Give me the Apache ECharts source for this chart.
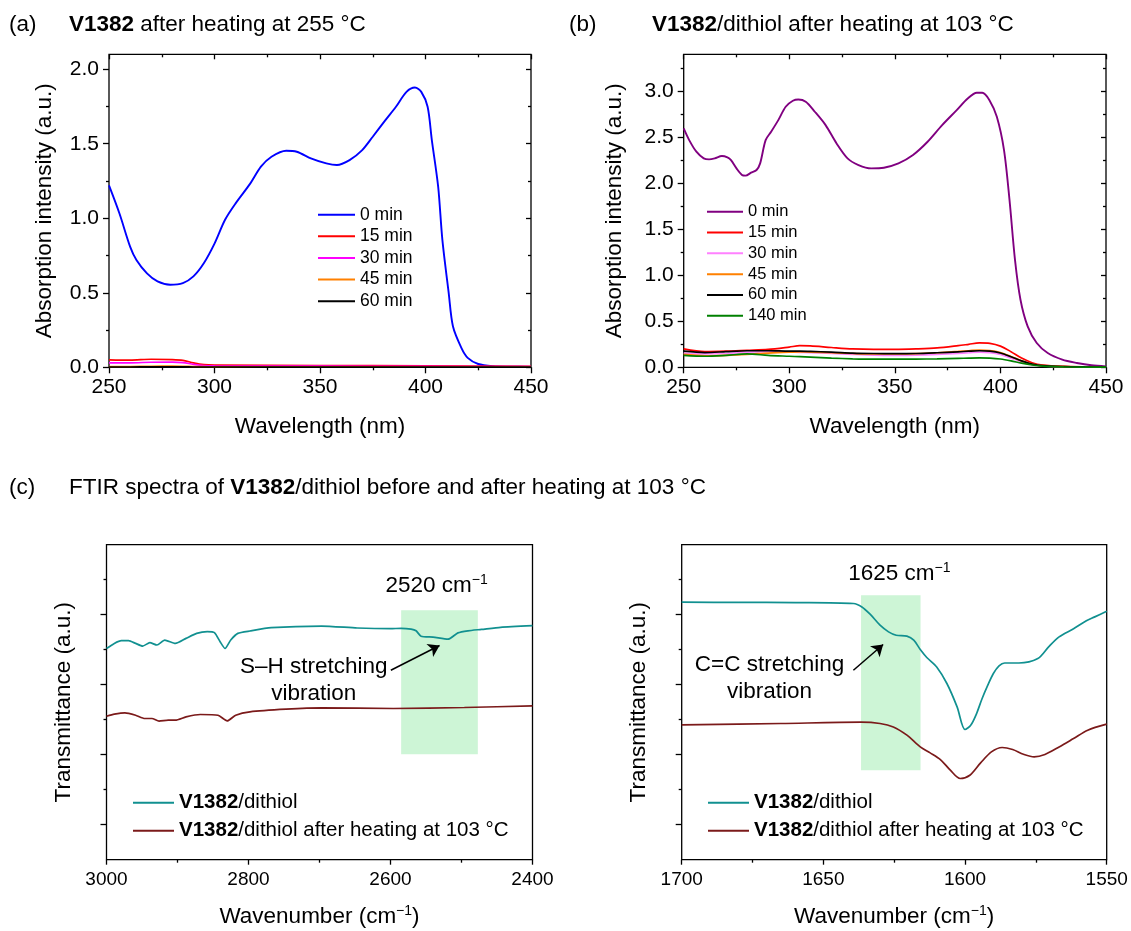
<!DOCTYPE html>
<html>
<head>
<meta charset="utf-8">
<title>V1382 UV-Vis and FTIR spectra</title>
<script src="https://cdn.jsdelivr.net/npm/echarts@6/dist/echarts.min.js"></script>
<style>
  html, body { margin: 0; padding: 0; background: #fff; }
  #chart { width: 1131px; height: 931px; }
</style>
</head>
<body>
<div id="chart"></div>
<script>
// ---------- (a) V1382 after heating at 255 °C ----------
const wlA0 = [250, 255, 260, 263, 268, 273, 279, 285, 290, 295, 300, 305, 310, 317, 322, 327, 334, 339, 346, 353, 358, 364, 370, 375, 381, 386, 391, 395, 398, 401, 403, 406, 408, 411, 413, 417, 420, 425, 432, 440, 450];
const absA0 = [1.22, 1.03, 0.81, 0.72, 0.63, 0.576, 0.554, 0.565, 0.61, 0.70, 0.83, 0.99, 1.10, 1.234, 1.346, 1.413, 1.453, 1.446, 1.40, 1.368, 1.357, 1.39, 1.457, 1.547, 1.658, 1.748, 1.848, 1.877, 1.848, 1.748, 1.525, 1.212, 0.855, 0.498, 0.275, 0.13, 0.063, 0.022, 0.007, 0.004, 0.003];
const wlAlow = [250, 260, 270, 280, 285, 290, 295, 300, 350, 400, 450];
const absA15 = [0.050, 0.048, 0.054, 0.052, 0.047, 0.030, 0.018, 0.015, 0.012, 0.010, 0.006];
const absA30 = [0.030, 0.030, 0.034, 0.035, 0.032, 0.020, 0.012, 0.010, 0.008, 0.006, 0.004];
const absA45 = [0.004, 0.005, 0.007, 0.008, 0.007, 0.005, 0.004, 0.003, 0.003, 0.002, 0.002];
const absA60 = [0.002, 0.002, 0.003, 0.003, 0.003, 0.002, 0.002, 0.002, 0.001, 0.001, 0.001];

// ---------- (b) V1382/dithiol after heating at 103 °C ----------
const wlB0 = [250, 252.6, 256, 259.5, 262, 264.7, 268.1, 270.7, 272.4, 275, 277.6, 279.3, 281.9, 284.5, 286.2, 288.8, 291.4, 294.8, 298.3, 301.7, 304.3, 307.8, 312.1, 317.2, 322.4, 327.6, 332.8, 338.8, 344.8, 351.7, 358.6, 365.5, 372.4, 379.3, 384.5, 388.8, 391.4, 394.8, 398.3, 401.7, 404.3, 406.9, 409.5, 412.9, 417.2, 422.4, 429.3, 436.2, 443.1, 450];
const absB0 = [2.595, 2.468, 2.342, 2.27, 2.259, 2.27, 2.295, 2.28, 2.25, 2.161, 2.089, 2.082, 2.114, 2.143, 2.215, 2.468, 2.559, 2.685, 2.83, 2.895, 2.909, 2.884, 2.776, 2.631, 2.432, 2.27, 2.197, 2.161, 2.168, 2.215, 2.306, 2.45, 2.631, 2.794, 2.92, 2.982, 2.982, 2.902, 2.721, 2.36, 1.818, 1.167, 0.734, 0.445, 0.264, 0.155, 0.083, 0.047, 0.022, 0.01];
const wlBlow = [250, 260, 270, 280, 290, 300, 305, 310, 320, 330, 340, 350, 360, 370, 380, 385, 390, 395, 400, 405, 410, 415, 420, 430, 440, 450];
const absB15 = [0.20, 0.17, 0.175, 0.185, 0.195, 0.22, 0.235, 0.232, 0.215, 0.20, 0.195, 0.195, 0.20, 0.21, 0.235, 0.25, 0.265, 0.26, 0.23, 0.17, 0.10, 0.05, 0.025, 0.01, 0.005, 0.003];
const absB30 = [0.155, 0.145, 0.15, 0.165, 0.17, 0.165, 0.162, 0.16, 0.15, 0.14, 0.132, 0.13, 0.132, 0.14, 0.152, 0.158, 0.165, 0.16, 0.14, 0.10, 0.06, 0.03, 0.015, 0.006, 0.003, 0.001];
const absB45 = [0.14, 0.125, 0.13, 0.14, 0.155, 0.165, 0.168, 0.165, 0.158, 0.15, 0.145, 0.145, 0.148, 0.158, 0.172, 0.18, 0.188, 0.182, 0.16, 0.118, 0.07, 0.035, 0.018, 0.008, 0.004, 0.002];
const absB60 = [0.175, 0.16, 0.17, 0.18, 0.18, 0.175, 0.175, 0.172, 0.165, 0.155, 0.15, 0.148, 0.15, 0.158, 0.168, 0.175, 0.18, 0.175, 0.155, 0.115, 0.07, 0.035, 0.018, 0.008, 0.004, 0.002];
const absB140 = [0.13, 0.12, 0.13, 0.145, 0.13, 0.12, 0.115, 0.11, 0.10, 0.092, 0.088, 0.088, 0.089, 0.092, 0.097, 0.10, 0.102, 0.10, 0.09, 0.07, 0.045, 0.025, 0.012, 0.005, 0.002, 0.001];

// ---------- (c) FTIR, S–H region ----------
const wnShDithiol = [3000, 2989, 2979, 2969, 2959, 2949, 2939, 2929, 2918, 2903, 2888, 2873, 2858, 2848, 2840, 2833, 2825, 2815, 2798, 2768, 2697, 2647, 2600, 2585, 2571, 2564, 2557, 2540, 2519, 2505, 2491, 2472, 2445, 2400];
const trShDithiol = [2.517, 2.59, 2.629, 2.629, 2.59, 2.552, 2.6, 2.567, 2.638, 2.59, 2.662, 2.733, 2.757, 2.743, 2.614, 2.517, 2.638, 2.733, 2.767, 2.814, 2.838, 2.81, 2.80, 2.805, 2.793, 2.77, 2.693, 2.68, 2.65, 2.74, 2.77, 2.79, 2.82, 2.843];
const wnShHeated = [3000, 2989, 2974, 2959, 2946, 2936, 2926, 2913, 2903, 2888, 2868, 2843, 2830, 2818, 2798, 2747, 2697, 2596, 2496, 2400];
const trShHeated = [1.55, 1.579, 1.598, 1.564, 1.517, 1.517, 1.479, 1.493, 1.493, 1.54, 1.574, 1.564, 1.483, 1.564, 1.612, 1.65, 1.669, 1.66, 1.674, 1.698];

// ---------- (c) FTIR, C=C region ----------
const wnCcDithiol = [1700, 1680, 1660, 1639.4, 1636.4, 1633.5, 1630, 1627, 1624.3, 1620.5, 1618.1, 1615.8, 1613.5, 1610, 1606.4, 1602.8, 1600, 1598, 1596, 1594, 1592, 1590, 1588, 1586, 1581, 1574.3, 1570.5, 1566.8, 1561.7, 1557.9, 1554.2, 1550];
const trCcDithiol = [3.179, 3.176, 3.173, 3.16, 3.111, 3.007, 2.85, 2.755, 2.707, 2.693, 2.636, 2.503, 2.389, 2.254, 2.017, 1.683, 1.36, 1.42, 1.58, 1.80, 1.99, 2.16, 2.27, 2.31, 2.31, 2.374, 2.54, 2.683, 2.8, 2.897, 2.969, 3.05];
const wnCcHeated = [1700, 1665, 1636.7, 1630, 1625.3, 1620.5, 1615.8, 1612.3, 1608.7, 1605.2, 1601.7, 1598.3, 1594.5, 1590.7, 1586.9, 1583.2, 1579.4, 1575.6, 1571.8, 1566.8, 1561.7, 1556.7, 1550];
const trCcHeated = [1.426, 1.446, 1.464, 1.446, 1.397, 1.279, 1.111, 1.026, 0.931, 0.779, 0.66, 0.707, 0.883, 1.04, 1.103, 1.074, 1.007, 0.969, 1.003, 1.111, 1.231, 1.35, 1.436];

// highlighted bands and their labels
const shPeak = 2520, shBand = [2585, 2477];
const ccPeak = 1625, ccBand = [1636.7, 1615.7];

// ---------- tick values ----------
const uvTicks = [250, 300, 350, 400, 450];
const uvMinor = [275, 325, 375, 425];
const absTicksA = [0, 0.5, 1.0, 1.5, 2.0];
const absMinorA = [0.25, 0.75, 1.25, 1.75];
const absTicksB = [0, 0.5, 1.0, 1.5, 2.0, 2.5, 3.0];
const absMinorB = [0.25, 0.75, 1.25, 1.75, 2.25, 2.75, 3.25];
const shTicks = [2400, 2600, 2800, 3000];
const shMinor = [2500, 2700, 2900];
const ccTicks = [1550, 1600, 1650, 1700];
const ccMinor = [1575, 1625, 1675];
const trTicks = [0, 1, 2, 3];
const trMinor = [0.5, 1.5, 2.5, 3.5];

// legend labels for each series id
const legendText = {
  a0: '0 min', a15: '15 min', a30: '30 min', a45: '45 min', a60: '60 min',
  b0: '0 min', b15: '15 min', b30: '30 min', b45: '45 min', b60: '60 min', b140: '140 min',
  shD: '{b|V1382}/dithiol', shH: '{b|V1382}/dithiol after heating at 103 °C',
  ccD: '{b|V1382}/dithiol', ccH: '{b|V1382}/dithiol after heating at 103 °C'
};

const FONT = '"Liberation Sans", Arial, Helvetica, sans-serif';
const BLACK = '#000';
const TITLE_FS = 22.5;

const supRich = {
  sup: { fontSize: 14, lineHeight: 14, verticalAlign: 'top', fontFamily: FONT, color: BLACK }
};

const xAxes = [];
const yAxes = [];

function axis(o) {
  const a = {
    type: 'value',
    gridIndex: o.grid,
    position: o.pos,
    min: o.min,
    max: o.max,
    inverse: !!o.inverse,
    silent: true,
    axisLine: { show: false, onZero: false },
    splitLine: { show: false },
    axisTick: {
      show: true, inside: o.inside, length: o.len, customValues: o.ticks,
      lineStyle: { color: BLACK, width: 1.3 }
    },
    axisLabel: o.labelSize ? {
      show: true, customValues: o.ticks, formatter: o.fmt,
      fontSize: o.labelSize, lineHeight: o.labelSize + 3, margin: o.margin,
      color: BLACK, fontFamily: FONT
    } : { show: false }
  };
  if (o.name) {
    a.name = o.name;
    a.nameLocation = 'middle';
    a.nameGap = o.nameGap;
    a.nameTextStyle = {
      fontSize: TITLE_FS, lineHeight: 26, color: BLACK, fontFamily: FONT, rich: supRich
    };
  }
  const list = (o.pos === 'bottom' || o.pos === 'top') ? xAxes : yAxes;
  list.push(a);
  return list.length - 1;
}

// builds the tick axes of one panel and returns the indices used by its series
function panelAxes(grid, xs, ys, mirrored) {
  const xi = axis(Object.assign({ grid, pos: 'bottom', inside: false, len: xs.majorLen, ticks: xs.ticks }, xs.label));
  axis({ grid, pos: 'bottom', min: xs.min, max: xs.max, inverse: xs.inverse, inside: false, len: 3, ticks: xs.minor });
  const yi = axis(Object.assign({ grid, pos: 'left', inside: false, len: 6, ticks: ys.ticks }, ys.label));
  axis({ grid, pos: 'left', min: ys.min, max: ys.max, inside: false, len: 3, ticks: ys.minor });
  if (mirrored) {
    axis({ grid, pos: 'top', min: xs.min, max: xs.max, inverse: xs.inverse, inside: true, len: 5, ticks: xs.ticks });
    axis({ grid, pos: 'top', min: xs.min, max: xs.max, inverse: xs.inverse, inside: true, len: 3, ticks: xs.minor });
    axis({ grid, pos: 'right', min: ys.min, max: ys.max, inside: true, len: 5, ticks: ys.ticks });
    axis({ grid, pos: 'right', min: ys.min, max: ys.max, inside: true, len: 3, ticks: ys.minor });
  }
  return { xi, yi };
}

const fmt1 = v => v.toFixed(1);
const fmt0 = v => String(v);

const uvX = () => ({
  min: 250, max: 450, ticks: uvTicks, minor: uvMinor, majorLen: 6,
  label: { min: 250, max: 450, labelSize: 21, margin: 8, fmt: fmt0, name: 'Wavelength (nm)', nameGap: 46 }
});

const axA = panelAxes(0, uvX(), {
  min: 0, max: 2.1, ticks: absTicksA, minor: absMinorA,
  label: { min: 0, max: 2.1, labelSize: 21, margin: 10, fmt: fmt1, name: 'Absorption intensity (a.u.)', nameGap: 51 }
}, true);

const axB = panelAxes(1, uvX(), {
  min: 0, max: 3.4, ticks: absTicksB, minor: absMinorB,
  label: { min: 0, max: 3.4, labelSize: 21, margin: 10, fmt: fmt1, name: 'Absorption intensity (a.u.)', nameGap: 56 }
}, true);

const axC1 = panelAxes(2, {
  min: 2400, max: 3000, inverse: true, ticks: shTicks, minor: shMinor, majorLen: 5,
  label: { min: 2400, max: 3000, inverse: true, labelSize: 19, margin: 9, fmt: fmt0, name: 'Wavenumber (cm{sup|−1})', nameGap: 44 }
}, {
  min: -0.5, max: 4, ticks: trTicks, minor: trMinor,
  label: { min: -0.5, max: 4, name: 'Transmittance (a.u.)', nameGap: 30 }
}, false);

const axC2 = panelAxes(3, {
  min: 1550, max: 1700, inverse: true, ticks: ccTicks, minor: ccMinor, majorLen: 5,
  label: { min: 1550, max: 1700, inverse: true, labelSize: 19, margin: 9, fmt: fmt0, name: 'Wavenumber (cm{sup|−1})', nameGap: 44 }
}, {
  min: -0.5, max: 4, ticks: trTicks, minor: trMinor,
  label: { min: -0.5, max: 4, name: 'Transmittance (a.u.)', nameGap: 30 }
}, false);

function zip(xs, ys) { return xs.map((x, i) => [x, ys[i]]); }

function line(id, color, xs, ys, ax, extra) {
  return Object.assign({
    type: 'line', name: id, xAxisIndex: ax.xi, yAxisIndex: ax.yi,
    data: zip(xs, ys), symbol: 'none', showSymbol: false, smooth: 0.3,
    lineStyle: { color, width: 1.7 }, itemStyle: { color },
    emphasis: { disabled: true }, animation: false, z: 3
  }, extra || {});
}

const annotLabel = {
  show: true, position: 'inside', color: BLACK, fontFamily: FONT,
  fontSize: TITLE_FS, lineHeight: 27, align: 'center', verticalAlign: 'middle', rich: {
    sup: { fontSize: 14, lineHeight: 14, verticalAlign: 'top', fontFamily: FONT, color: BLACK }
  }
};

function note(x, y, text) {
  return { coord: [x, y], value: 0, label: Object.assign({}, annotLabel, { formatter: text }) };
}

function arrow(x1, y1, x2, y2) {
  return [{ coord: [x1, y1], symbol: 'none' }, { coord: [x2, y2], symbol: 'arrow', symbolSize: 11 }];
}

const markerBase = (band, notes, arr) => ({
  markArea: {
    silent: true, z: 1,
    itemStyle: { color: '#cdf5d6' },
    data: [[{ xAxis: band[0], yAxis: band[2] }, { xAxis: band[1], yAxis: band[3] }]]
  },
  markPoint: {
    silent: true, symbol: 'rect', symbolSize: 1,
    itemStyle: { color: 'rgba(0,0,0,0)' },
    data: notes
  },
  markLine: {
    silent: true, animation: false,
    lineStyle: { color: BLACK, width: 1.5, type: 'solid' },
    label: { show: false },
    data: [arr]
  }
});

const series = [
  line('a0', '#0000ff', wlA0, absA0, axA, { lineStyle: { color: '#0000ff', width: 1.9 } }),
  line('a15', '#ff0000', wlAlow, absA15, axA),
  line('a30', '#ff00ff', wlAlow, absA30, axA),
  line('a45', '#ff8000', wlAlow, absA45, axA),
  line('a60', '#000000', wlAlow, absA60, axA),

  line('b0', '#800080', wlB0, absB0, axB, { lineStyle: { color: '#800080', width: 1.9 } }),
  line('b15', '#ff0000', wlBlow, absB15, axB),
  line('b30', '#ff80ff', wlBlow, absB30, axB),
  line('b45', '#ff8000', wlBlow, absB45, axB),
  line('b60', '#000000', wlBlow, absB60, axB),
  line('b140', '#008000', wlBlow, absB140, axB),

  line('shD', '#119090', wnShDithiol, trShDithiol, axC1, Object.assign({ smooth: 0.2 },
    markerBase([shBand[0], shBand[1], 3.064, 1.007], [
      note(2535, 3.407, shPeak + ' cm{sup|−1}'),
      note(2708, 2.057, 'S–H stretching\nvibration')
    ], arrow(2599.5, 2.207, 2530.9, 2.56)))),
  line('shH', '#7b1a1a', wnShHeated, trShHeated, axC1, { smooth: 0.2 }),

  line('ccD', '#119090', wnCcDithiol, trCcDithiol, axC2, Object.assign({ smooth: 0.3 },
    markerBase([ccBand[0], ccBand[1], 3.279, 0.779], [
      note(1623.2, 3.579, ccPeak + ' cm{sup|−1}'),
      note(1669, 2.089, 'C=C stretching\nvibration')
    ], arrow(1639.4, 2.207, 1628.9, 2.574)))),
  line('ccH', '#7b1a1a', wnCcHeated, trCcHeated, axC2, { smooth: 0.3 })
];

function legend(ids, left, top, fs, itemWidth, gap) {
  return {
    data: ids, left, top, orient: 'vertical', padding: 0,
    icon: 'rect', itemWidth, itemHeight: 2, itemGap: gap, selectedMode: false,
    itemStyle: { borderWidth: 0 },
    formatter: n => legendText[n],
    textStyle: {
      fontSize: fs, lineHeight: fs + 3, color: BLACK, fontFamily: FONT,
      rich: { b: { fontWeight: 'bold', fontSize: fs, fontFamily: FONT, color: BLACK } }
    }
  };
}

function title(text, left, top) {
  return {
    text, left, top, padding: 0,
    textStyle: {
      fontSize: TITLE_FS, fontWeight: 'normal', lineHeight: 26, color: BLACK, fontFamily: FONT,
      rich: {
        b: { fontWeight: 'bold', fontSize: TITLE_FS, lineHeight: 26, fontFamily: FONT, color: BLACK }
      }
    }
  };
}

const option = {
  backgroundColor: '#fff',
  animation: false,
  textStyle: { fontFamily: FONT },
  title: [
    title('(a)', 9, 12),
    title('{b|V1382} after heating at 255 °C', 69, 12),
    title('(b)', 569, 12),
    title('{b|V1382}/dithiol after heating at 103 °C', 652, 12),
    title('(c)', 9, 475),
    title('FTIR spectra of {b|V1382}/dithiol before and after heating at 103 °C', 69, 475)
  ],
  grid: [
    { left: 109, top: 54.3, width: 422, height: 313 },
    { left: 683.7, top: 54.3, width: 422.3, height: 313 },
    { left: 106.5, top: 544.7, width: 426, height: 315 },
    { left: 681.7, top: 544.7, width: 425, height: 315 }
  ].map(g => Object.assign(g, { show: true, borderColor: BLACK, borderWidth: 1.3, backgroundColor: 'transparent' })),
  legend: [
    legend(['a0', 'a15', 'a30', 'a45', 'a60'], 318, 204.5, 17.5, 37, 1.1),
    legend(['b0', 'b15', 'b30', 'b45', 'b60', 'b140'], 707, 202, 16.5, 36, 1.3),
    legend(['shD', 'shH'], 133, 791, 20.5, 41, 4.5),
    legend(['ccD', 'ccH'], 708, 791, 20.5, 41, 4.5)
  ],
  xAxis: xAxes,
  yAxis: yAxes,
  series
};

const chart = echarts.init(document.getElementById('chart'), null, { renderer: 'canvas' });
chart.setOption(option);
</script>
</body>
</html>
